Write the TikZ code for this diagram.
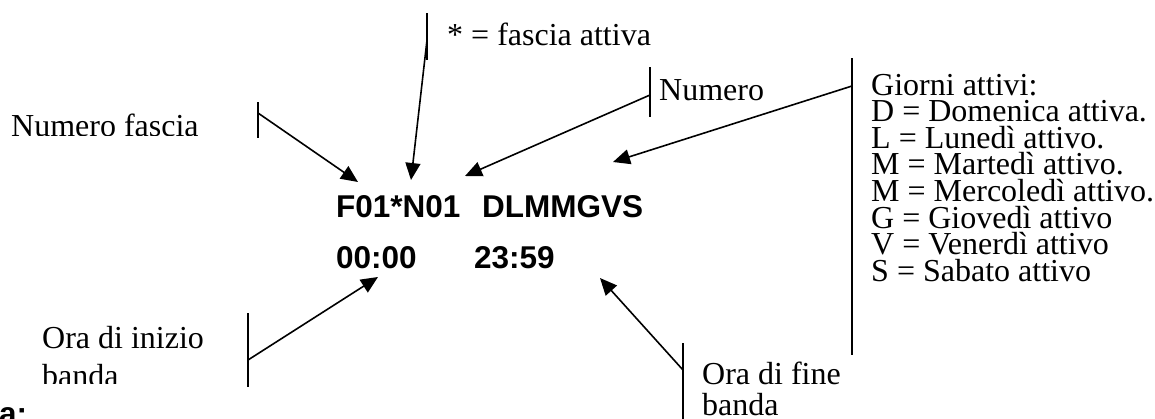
\documentclass[tikz,border=0pt]{standalone}
\usepackage{fontspec}
\setmainfont{Liberation Serif}
\newfontfamily\dispfont{Liberation Sans}
\usetikzlibrary{arrows.meta}

\tikzset{
  txt/.style={anchor=base west, inner sep=0pt, font=\fontsize{32}{27}\selectfont},
  disp/.style={anchor=base west, inner sep=0pt, font=\dispfont\bfseries\fontsize{31.5}{32}\selectfont},
  bar/.style={line width=1.6pt},
  pointer/.style={line width=1.6pt, -{Triangle[length=17pt,width=15pt]}}
}

\begin{document}
\begin{tikzpicture}[x=1pt, y=-1pt]
\useasboundingbox (0,0) rectangle (1155,418);

% display rows
\node[disp] (band)  at (336,217) {F01*N01};
\node[disp] (days)  at (482,217) {DLMMGVS};
\node[disp] (start) at (336,268) {00:00};
\node[disp] (stop)  at (474,268) {23:59};

% labels (the text boxes cut some lines at the bottom)
\begin{scope}
  \clip (0,0) rectangle (240,135);
  \node[txt] (lblband) at (11,136) {Numero fascia};
\end{scope}
\node[txt] (lblstar) at (447,45) {* = fascia attiva};
\node[txt] (lblnum)  at (659,100) {Numero};
\foreach \t [count=\i] in {{Giorni attivi:},{D = Domenica attiva.},{L = Lunedì attivo.},
    {M = Martedì attivo.},{M = Mercoledì attivo.},{G = Giovedì attivo},
    {V = Venerdì attivo},{S = Sabato attivo}}
  \node[txt] (lblday\i) at (871,{95+26.6*(\i-1)}) {\t};
\node[txt] (lblstart) at (42,348) {Ora di inizio};
\begin{scope}
  \clip (0,300) rectangle (240,383);
  \node[txt] (lblstartb) at (42,386) {banda};
\end{scope}
\node[txt] (lblstop)  at (702,384) {Ora di fine};
\node[txt] (lblstopb) at (702,415) {banda};
\node[disp] (lblcut) at (-1,424) {a:};

% bracket bars beside the labels
\coordinate (b1t) at (258,102); \coordinate (b1b) at (258,138);
\coordinate (b2t) at (427,13);  \coordinate (b2b) at (427,60);
\coordinate (b3t) at (650,67);  \coordinate (b3b) at (650,117);
\coordinate (b4t) at (852,58);  \coordinate (b4b) at (852,355);
\coordinate (b5t) at (248,313); \coordinate (b5b) at (248,387);
\coordinate (b6t) at (683,343); \coordinate (b6b) at (683,420);
\draw[bar] (b1t) -- (b1b);
\draw[bar] (b2t) -- (b2b);
\draw[bar] (b3t) -- (b3b);
\draw[bar] (b4t) -- (b4b);
\draw[bar] (b5t) -- (b5b);
\draw[bar] (b6t) -- (b6b);

% arrow starts on the bars and tips at the display
\coordinate (s1) at (258,113); \coordinate (t1) at (358,182);
\coordinate (s2) at (427,40);  \coordinate (t2) at (411,180);
\coordinate (s3) at (650,95);  \coordinate (t3) at (465,176);
\coordinate (s4) at (852,86);  \coordinate (t4) at (613,162);
\coordinate (s5) at (248,360); \coordinate (t5) at (378,277);
\coordinate (s6) at (683,370); \coordinate (t6) at (600,278);
\draw[pointer] (s1) -- (t1);
\draw[pointer] (s2) -- (t2);
\draw[pointer] (s3) -- (t3);
\draw[pointer] (s4) -- (t4);
\draw[pointer] (s5) -- (t5);
\draw[pointer] (s6) -- (t6);
\end{tikzpicture}
\end{document}
